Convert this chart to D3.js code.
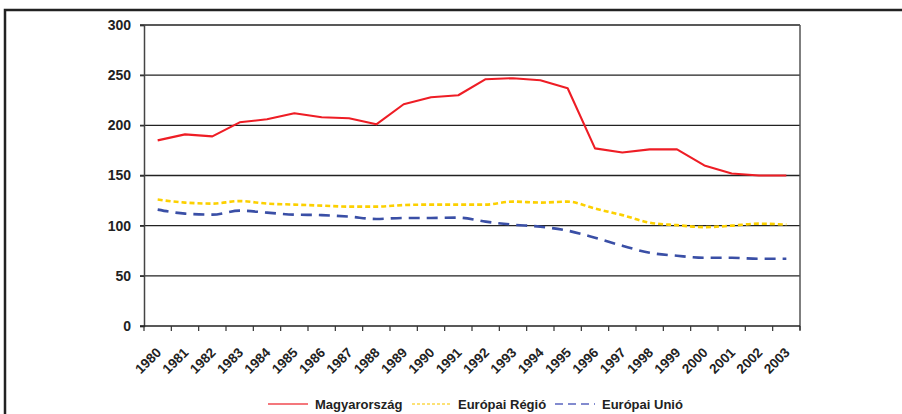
<!DOCTYPE html>
<html>
<head>
<meta charset="utf-8">
<script src="https://cdn.jsdelivr.net/npm/d3@7"></script>
<style>
  html, body { margin: 0; padding: 0; background: #fff; }
  svg { display: block; }
  text { font-family: "Liberation Sans", Arial, sans-serif; font-weight: bold; fill: #222; }
</style>
</head>
<body>
<svg id="chart" width="902" height="414"></svg>
<script>
const years = ["1980","1981","1982","1983","1984","1985","1986","1987","1988","1989","1990","1991","1992","1993","1994","1995","1996","1997","1998","1999","2000","2001","2002","2003"];
const magyarorszag = [185,191,189,203,206,212,208,207,201,221,228,230,246,247,245,237,177,173,176,176,160,152,150,150];
const europaiRegio = [126,123,122,124.5,122,121,120,119,119,120.5,121,121,121,124,123,124,117,110.5,103,100.5,98.5,100,102,101];
const europaiUnio = [116,112,111,115,113,111,110.5,109,106.7,107.7,107.7,108,104,101,99,95,88,80,73,70,68,68,67,67];
const yTicks = [0,50,100,150,200,250,300];
const seriesNames = ["Magyarország","Európai Régió","Európai Unió"];

(function () {
const svg = d3.select("#chart");

// outer frame
svg.append("rect").attr("x",5).attr("y",10).attr("width",1000).attr("height",1000)
  .attr("fill","none").attr("stroke","#222").attr("stroke-width",2.5);

const pLeft = 144, pRight = 800, pTop = 25, pBottom = 326;
const x = d3.scaleBand().domain(years).range([pLeft, pRight]).paddingInner(0).paddingOuter(0);
const y = d3.scaleLinear().domain([0,300]).range([pBottom, pTop]);

// gridlines
svg.append("g").selectAll("line").data(yTicks.filter(d => d > 0)).join("line")
  .attr("x1", pLeft - 4).attr("x2", pRight)
  .attr("y1", d => y(d)).attr("y2", d => y(d))
  .attr("stroke", "#222").attr("stroke-width", 1.3);

// y axis
const yAxis = svg.append("g").attr("transform", `translate(${pLeft},0)`)
  .call(d3.axisLeft(y).tickValues(yTicks).tickSize(4).tickPadding(9));
yAxis.select(".domain").attr("stroke","#444").attr("stroke-width",1.5);
yAxis.selectAll(".tick line").attr("stroke","#333").attr("stroke-width",1.3);
yAxis.selectAll(".tick text").style("font-size","14px").attr("fill","#222");

// right border
svg.append("line").attr("x1", pRight).attr("x2", pRight).attr("y1", pTop).attr("y2", pBottom + 4)
  .attr("stroke","#555").attr("stroke-width",1.5);

// x axis line
svg.append("line").attr("x1", pLeft - 4).attr("x2", pRight).attr("y1", y(0)).attr("y2", y(0))
  .attr("stroke","#222").attr("stroke-width",1.5);

// x ticks at category boundaries
const bounds = years.map(d => x(d)).concat([x(years[years.length-1]) + x.bandwidth()]);
svg.append("g").selectAll("line").data(bounds).join("line")
  .attr("x1", d => d).attr("x2", d => d)
  .attr("y1", y(0)).attr("y2", y(0) + 5)
  .attr("stroke","#333").attr("stroke-width",1.2);

// x labels
svg.append("g").selectAll("text").data(years).join("text")
  .attr("transform", d => `translate(${x(d) + x.bandwidth()/2 + 1},${y(0) + 24}) rotate(-45)`)
  .attr("text-anchor","end").attr("dy","0.35em")
  .style("font-size","13.5px")
  .text(d => d);

const cx = d => x(d) + x.bandwidth()/2;
const lineLinear = d3.line().x((d,i) => cx(years[i])).y(d => y(d));
const lineSmooth = d3.line().x((d,i) => cx(years[i])).y(d => y(d)).curve(d3.curveMonotoneX);

svg.append("path").datum(magyarorszag).attr("d", lineLinear)
  .attr("fill","none").attr("stroke","#ee1d25").attr("stroke-width",2.1).attr("stroke-linejoin","round");
svg.append("path").datum(europaiRegio).attr("d", lineSmooth)
  .attr("fill","none").attr("stroke","#fcd000").attr("stroke-width",2.6).attr("stroke-dasharray","5,3");
svg.append("path").datum(europaiUnio).attr("d", lineSmooth)
  .attr("fill","none").attr("stroke","#3a4fa6").attr("stroke-width",2.6).attr("stroke-dasharray","11,7");

// legend
const legendItems = [
  {name: seriesNames[0], color: "#f04a50", dash: null, x1: 268, tx: 315},
  {name: seriesNames[1], color: "#fcd84a", dash: "3,2", x1: 412, tx: 458},
  {name: seriesNames[2], color: "#5a66c0", dash: "8,5", x1: 555, tx: 602}
];
const lg = svg.append("g");
legendItems.forEach(it => {
  lg.append("line").attr("x1", it.x1).attr("x2", it.x1 + 40).attr("y1", 404).attr("y2", 404)
    .attr("stroke", it.color).attr("stroke-width", 1.3).attr("stroke-dasharray", it.dash);
  lg.append("text").attr("x", it.tx).attr("y", 404).attr("dy","0.35em")
    .style("font-size","13px").text(it.name);
});
})();
</script>
</body>
</html>
